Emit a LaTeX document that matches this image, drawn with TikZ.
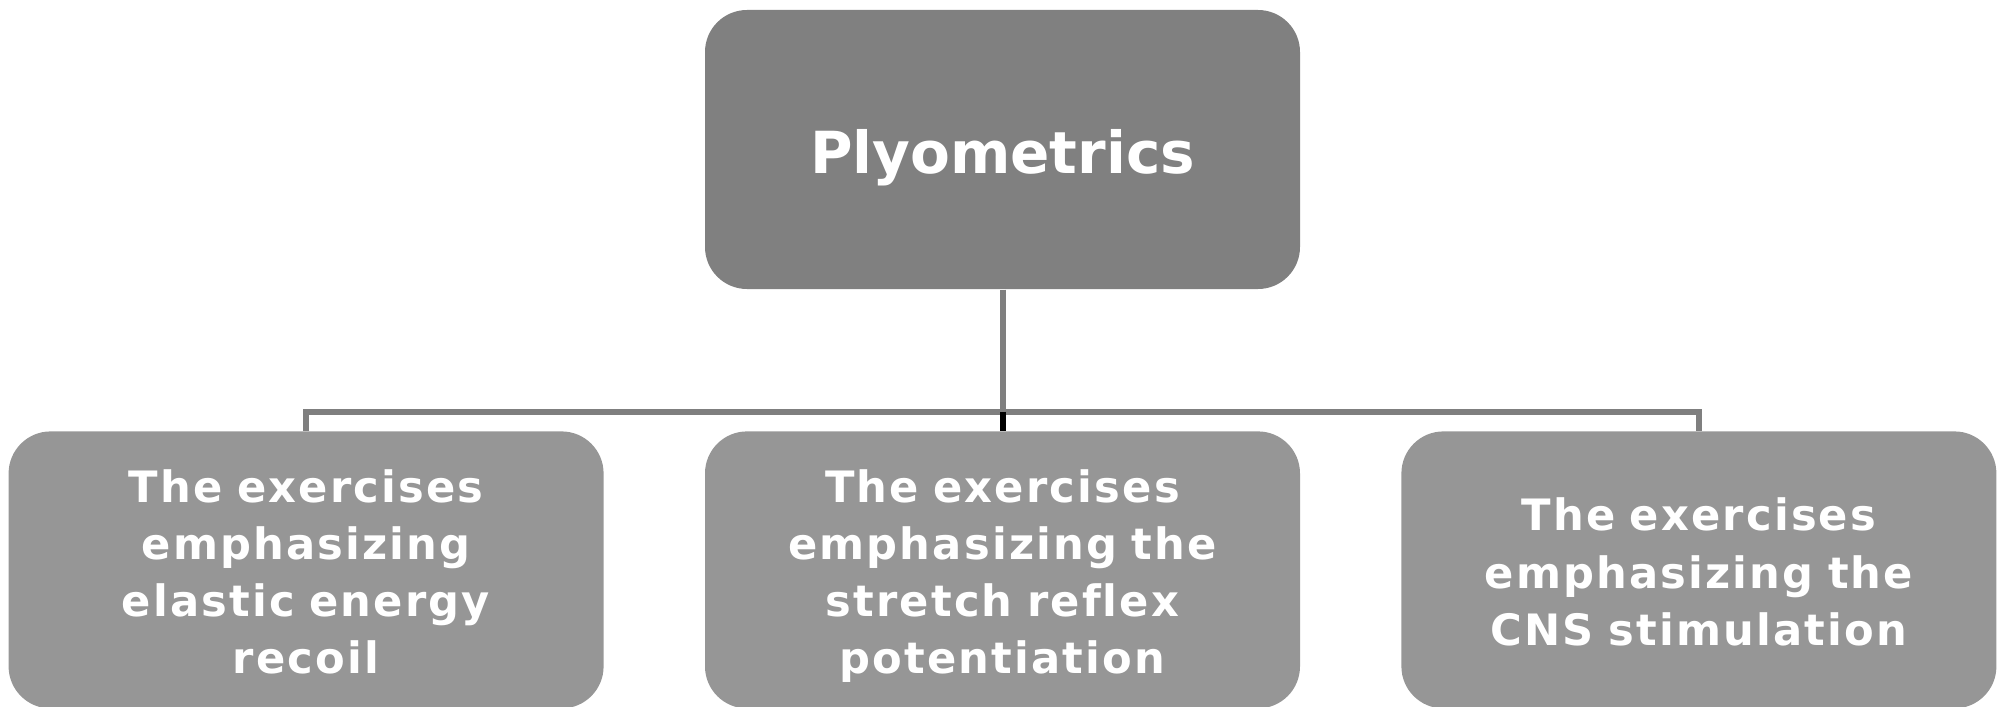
\documentclass[tikz,border=0pt]{standalone}
\usepackage{fontspec}
\setmainfont{DejaVu Sans}
\newfontfamily\leaffont{DejaVu Sans}[LetterSpace=5, Ligatures=NoCommon]
\usepackage{xcolor}
\definecolor{rootfill}{RGB}{128,128,128}
\definecolor{leaffill}{RGB}{150,150,150}
\definecolor{linkgray}{RGB}{127,127,127}
\usetikzlibrary{positioning}

\begin{document}
\begin{tikzpicture}[
  node distance=1.0cm,
  box/.style={
    rounded corners=0.42cm,
    minimum width=5.95cm, minimum height=2.77cm,
    text=white, align=center, inner sep=0pt,
  },
  rootbox/.style={box, fill=rootfill, minimum height=2.79cm,
    font=\bfseries\fontsize{16.5}{19}\selectfont},
  leafbox/.style={box, fill=leaffill, text width=5.8cm,
    font=\leaffont\bfseries\fontsize{12.3}{16.3}\selectfont,
    execute at begin node=\rule{0pt}{13.3pt},
    execute at end node=\rule[-3pt]{0pt}{0pt}},
  link/.style={draw=linkgray, line width=0.06cm},
]
\useasboundingbox (0,0) rectangle (20.02,-7.07);
\node[rootbox] (root) at (10.025,-1.495) {\raisebox{-6.8pt}[0pt][0pt]{Plyometrics}};
\node[leafbox] (mid)   [below=1.41cm of root] {The exercises\\emphasizing the\\stretch reflex\\potentiation};
\node[leafbox] (left)  [left=of mid]  {The exercises\\emphasizing\\elastic energy\\recoil};
\node[leafbox] (right) [right=of mid] {The exercises\\emphasizing the\\CNS stimulation};
\coordinate (bus) at ([yshift=0.19cm]mid.north);
% connectors
\draw[link] (root.south) -- (bus);
\draw[link] (left.north) |- (bus) -| (right.north);
\draw[line width=0.06cm] (bus) -- (mid.north);
\end{tikzpicture}
\end{document}
